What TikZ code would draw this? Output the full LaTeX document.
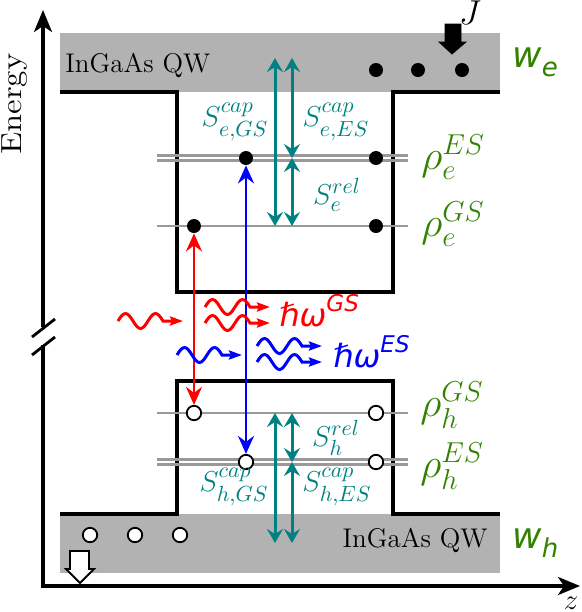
\documentclass[tikz,border=0pt]{standalone}
\usepackage{amsmath,amssymb}
\usepackage{fontspec}
\newfontfamily\dvsans{DejaVu Sans}
\usepackage{xcolor}
\usetikzlibrary{arrows.meta,positioning,calc}

\definecolor{popgreen}{RGB}{50,130,0}
\definecolor{rateteal}{RGB}{0,128,128}

\tikzset{
    photon/.pic={
        \draw[line width=1.5pt, -{Stealth[length=6.5pt, width=4.5pt, inset=1pt]}]
            (0,0) sin (7.5,-7.5) cos (15,0) sin (22.5,7.5) cos (30,0)
            sin (37.5,-7.5) cos (45,0) -- (65,0);
    }
}

\begin{document}
\begin{tikzpicture}[
    x=0.5pt, y=-0.5pt,
    qw/.style={fill=black!30},
    well/.style={line width=1.7pt},
    level/.style={draw=black!40, line width=1.1pt},
    axis/.style={line width=1.7pt, -{Stealth[length=11pt, width=9pt, inset=3pt]}},
    elec/.style={circle, fill=black, inner sep=0pt, minimum size=7pt},
    hole/.style={circle, draw, fill=white, line width=0.9pt, inner sep=0pt, minimum size=7.2pt},
    rate/.style={draw=rateteal, line width=1.5pt,
                 {Stealth[length=7pt, width=8pt, inset=2.5pt]}-{Stealth[length=7pt, width=8pt, inset=2.5pt]}},
    trans/.style={line width=1.3pt,
                  {Stealth[length=9pt, width=8pt, inset=3pt]}-{Stealth[length=9pt, width=8pt, inset=3pt]}},
    ratelbl/.style={text=rateteal, inner sep=0pt, font=\fontsize{15}{15}\selectfont},
    poplbl/.style={text=popgreen, anchor=west, inner sep=0pt, font=\fontsize{20}{20}\selectfont},
    wlbl/.style={text=popgreen, anchor=west, inner sep=0pt, font=\fontsize{18}{18}\selectfont\dvsans\itshape},
    hwlbl/.style={font=\fontsize{16}{16}\selectfont\dvsans\itshape, anchor=base west, inner sep=0pt},
    qwlbl/.style={inner sep=0pt, font=\fontsize{13.5}{13.5}\selectfont}
]
\useasboundingbox (0,0) rectangle (582,612);

% quantum wells
\fill[qw] (60,33) rectangle (500,92);
\fill[qw] (60,514) rectangle (500,573);
\draw[well] (60,92) -- (177,92) -- (177,292) -- (393,292) -- (393,92) -- (500,92);
\draw[well] (60,514) -- (177,514) -- (177,381) -- (393,381) -- (393,514) -- (500,514);
\node[qwlbl, anchor=base west] (qwe) at (65,72) {InGaAs QW};
\node[qwlbl, anchor=base east] (qwh) at (488,547) {InGaAs QW};
\node[wlbl] (we) at (512,62) {w\raisebox{-0.45ex}{\fontsize{13}{13}\selectfont e}};
\node[wlbl] (wh) at (512,543) {w\raisebox{-0.45ex}{\fontsize{13}{13}\selectfont h}};

% axes
\coordinate (origin) at (43,586);
\coordinate (ybrka) at (43,345);
\coordinate (ybrkb) at (43,327);
\coordinate (ytop) at (43,10);
\coordinate (xend) at (580,586);
\draw[axis] (ybrka) -- (origin) -- (xend);
\draw[axis] (ybrkb) -- (ytop);
\draw[line width=1.4pt] (32,355) -- (55,337);
\draw[line width=1.4pt] (32,337) -- (55,319);
\node[rotate=90, inner sep=0pt, font=\fontsize{14.5}{14.5}\selectfont] (energy) at (15,104) {\scalebox{1.15}[1]{Energy}};
\node[inner sep=0pt, font=\fontsize{15}{15}\selectfont] (zlbl) at (571,603) {$z$};

% confined levels
\foreach \y in {155.5,160.5,226,413,459.5,464.5}
    \draw[level] (157,\y) -- (408,\y);

% carriers
\node[elec] (eqwa) at (376,70) {};
\node[elec] (eqwb) at (418,70) {};
\node[elec] (eqwc) at (462,70) {};
\node[elec] (eESa) at (246,158) {};
\node[elec] (eESb) at (376,158) {};
\node[elec] (eGSa) at (194,226) {};
\node[elec] (eGSb) at (376,226) {};
\node[hole] (hGSa) at (194,413) {};
\node[hole] (hGSb) at (376,413) {};
\node[hole] (hESa) at (246,462) {};
\node[hole] (hESb) at (376,462) {};
\node[hole] (hqwa) at (90,535) {};
\node[hole] (hqwb) at (135,535) {};
\node[hole] (hqwc) at (180,535) {};

% pump and loss
\draw[fill=black] (445,24) -- (461,24) -- (461,42) -- (466,42) -- (452,54)
    -- (439,42) -- (445,42) -- cycle;
\node[font=\fontsize{16}{16}\selectfont, inner sep=0pt, anchor=base] (J) at (470,24) {$J$};
\draw[fill=white, line width=0.9pt] (70,551) -- (89,551) -- (89,569) -- (94,569)
    -- (80,583) -- (66,569) -- (70,569) -- cycle;

% capture and relaxation rates
\coordinate (ecapa) at (275,58);
\coordinate (ecapb) at (292,58);
\coordinate (eGSl) at (275,226);
\coordinate (eESl) at (292,158);
\coordinate (eGSr) at (292,226);
\coordinate (hcapa) at (275,543);
\coordinate (hcapb) at (292,543);
\coordinate (hGSl) at (275,413);
\coordinate (hGSr) at (292,413);
\coordinate (hESr) at (292,462);
\draw[rate] (ecapa) -- (eGSl);
\draw[rate] (ecapb) -- (eESl);
\draw[rate] (eESl) -- (eGSr);
\draw[rate] (hcapa) -- (hGSl);
\draw[rate] (hGSr) -- (hESr);
\draw[rate] (hESr) -- (hcapb);
\node[ratelbl] (SeGS) at (235,122) {$S^{cap}_{e,GS}$};
\node[ratelbl] (SeES) at (336,122) {$S^{cap}_{e,ES}$};
\node[ratelbl] (Serel) at (337,195) {$S^{rel}_{e}$};
\node[ratelbl] (Shrel) at (336,438) {$S^{rel}_{h}$};
\node[ratelbl] (ShES) at (337,487) {$S^{cap}_{h,ES}$};
\node[ratelbl] (ShGS) at (234,487) {$S^{cap}_{h,GS}$};

% populations
\node[poplbl] (rhoeES) at (421,157) {$\rho^{ES}_{e}$};
\node[poplbl] (rhoeGS) at (421,224) {$\rho^{GS}_{e}$};
\node[poplbl] (rhohGS) at (420,405) {$\rho^{GS}_{h}$};
\node[poplbl] (rhohES) at (420,466) {$\rho^{ES}_{h}$};

% optical transitions
\draw[trans, red] (eGSa) -- (hGSa);
\draw[trans, blue] (eESa) -- (hESa);
\pic[red] at (118,321) {photon};
\pic[red] at (205,307) {photon};
\pic[red] at (205,323) {photon};
\pic[blue] at (177,355) {photon};
\pic[blue] at (257,346) {photon};
\pic[blue] at (257,362) {photon};
\node[hwlbl, text=red] (hwGS) at (279,326) {ℏω\raisebox{0.85ex}{\fontsize{11.5}{11.5}\selectfont GS}};
\node[hwlbl, text=blue] (hwES) at (333,367) {ℏω\raisebox{0.85ex}{\fontsize{11.5}{11.5}\selectfont ES}};
\end{tikzpicture}
\end{document}
